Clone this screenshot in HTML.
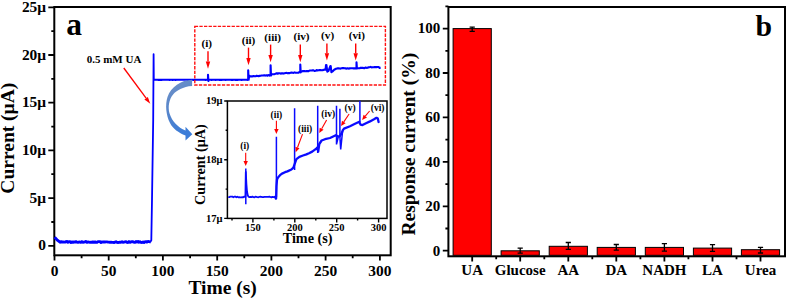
<!DOCTYPE html>
<html><head><meta charset="utf-8"><style>
html,body{margin:0;padding:0;background:#fff;overflow:hidden;}
svg{display:block;}
text{font-family:"Liberation Serif", serif;font-weight:bold;fill:#000;}
.t14{font-size:14.5px;}
.ta{font-size:15.4px;}
.t15{font-size:15px;}
.t19{font-size:19.5px;}
.t14b{font-size:14.2px;}
.t10{font-size:10.5px;}
.t11l{font-size:11.2px;}
.t9{font-size:9.5px;}
.t11{font-size:11px;}
.tbig{font-size:33px;}
</style></head><body>
<svg width="787" height="299" viewBox="0 0 787 299">
<rect x="54.3" y="7.0" width="336.4" height="248.3" fill="none" stroke="#000" stroke-width="2"/>
<rect x="448.4" y="7.0" width="336.6" height="249.3" fill="none" stroke="#000" stroke-width="2"/>
<path d="M48.3,245.8H54.3M51.3,222.0H54.3M48.3,198.1H54.3M51.3,174.2H54.3M48.3,150.4H54.3M51.3,126.6H54.3M48.3,102.7H54.3M51.3,78.9H54.3M48.3,55.0H54.3M51.3,31.2H54.3M48.3,7.3H54.3M54.5,255.3V260.5M81.6,255.3V258.3M108.7,255.3V260.5M135.8,255.3V258.3M162.9,255.3V260.5M190.1,255.3V258.3M217.2,255.3V260.5M244.3,255.3V258.3M271.4,255.3V260.5M298.5,255.3V258.3M325.6,255.3V260.5M352.7,255.3V258.3M379.9,255.3V260.5" stroke="#000" stroke-width="1.8" fill="none"/>
<text x="46.0" y="250.4" text-anchor="end" class="ta">0</text>
<text x="46.0" y="202.7" text-anchor="end" class="ta">5μ</text>
<text x="46.0" y="155.0" text-anchor="end" class="ta">10μ</text>
<text x="46.0" y="107.3" text-anchor="end" class="ta">15μ</text>
<text x="46.0" y="59.6" text-anchor="end" class="ta">20μ</text>
<text x="46.0" y="11.9" text-anchor="end" class="ta">25μ</text>
<text x="54.5" y="275.5" text-anchor="middle" class="ta">0</text>
<text x="108.7" y="275.5" text-anchor="middle" class="ta">50</text>
<text x="162.9" y="275.5" text-anchor="middle" class="ta">100</text>
<text x="217.2" y="275.5" text-anchor="middle" class="ta">150</text>
<text x="271.4" y="275.5" text-anchor="middle" class="ta">200</text>
<text x="325.6" y="275.5" text-anchor="middle" class="ta">250</text>
<text x="379.9" y="275.5" text-anchor="middle" class="ta">300</text>
<text x="222.6" y="294" text-anchor="middle" class="t19">Time (s)</text>
<text transform="translate(14.3,138.2) rotate(-90)" text-anchor="middle" class="t19">Current (μA)</text>
<text x="66.3" y="34.8" class="tbig" style="font-size:31.5px">a</text>
<path d="M442.8,250.7H448.4M445.4,228.5H448.4M442.8,206.3H448.4M445.4,184.1H448.4M442.8,161.9H448.4M445.4,139.6H448.4M442.8,117.4H448.4M445.4,95.2H448.4M442.8,73.0H448.4M445.4,50.8H448.4M442.8,28.6H448.4M445.4,6.4H448.4M472.2,256.3V261.5M496.2,256.3V259.3M520.2,256.3V261.5M544.3,256.3V259.3M568.3,256.3V261.5M592.3,256.3V259.3M616.3,256.3V261.5M640.4,256.3V259.3M664.4,256.3V261.5M688.4,256.3V259.3M712.5,256.3V261.5M736.5,256.3V259.3M760.5,256.3V261.5" stroke="#000" stroke-width="1.8" fill="none"/>
<text x="440.3" y="255.5" text-anchor="end" class="t15">0</text>
<text x="440.3" y="211.1" text-anchor="end" class="t15">20</text>
<text x="440.3" y="166.7" text-anchor="end" class="t15">40</text>
<text x="440.3" y="122.2" text-anchor="end" class="t15">60</text>
<text x="440.3" y="77.8" text-anchor="end" class="t15">80</text>
<text x="440.3" y="33.4" text-anchor="end" class="t15">100</text>
<text x="472.2" y="275.1" text-anchor="middle" class="t15">UA</text>
<text x="520.2" y="275.1" text-anchor="middle" class="t15">Glucose</text>
<text x="568.3" y="275.1" text-anchor="middle" class="t15">AA</text>
<text x="616.3" y="275.1" text-anchor="middle" class="t15">DA</text>
<text x="664.4" y="275.1" text-anchor="middle" class="t15">NADH</text>
<text x="712.5" y="275.1" text-anchor="middle" class="t15">LA</text>
<text x="760.5" y="275.1" text-anchor="middle" class="t15">Urea</text>
<text transform="translate(415.0,144.2) rotate(-90)" text-anchor="middle" class="t19">Response current (%)</text>
<text x="755.6" y="36.2" class="tbig" style="font-size:29.8px">b</text>
<rect x="453.1" y="28.6" width="38.2" height="226.7" fill="#ff0000" stroke="#000" stroke-width="1"/>
<rect x="501.1" y="250.8" width="38.2" height="4.5" fill="#ff0000" stroke="#000" stroke-width="1"/>
<rect x="549.2" y="246.3" width="38.2" height="9.0" fill="#ff0000" stroke="#000" stroke-width="1"/>
<rect x="597.2" y="247.4" width="38.2" height="7.9" fill="#ff0000" stroke="#000" stroke-width="1"/>
<rect x="645.3" y="247.4" width="38.2" height="7.9" fill="#ff0000" stroke="#000" stroke-width="1"/>
<rect x="693.4" y="248.1" width="38.2" height="7.2" fill="#ff0000" stroke="#000" stroke-width="1"/>
<rect x="741.4" y="249.7" width="38.2" height="5.6" fill="#ff0000" stroke="#000" stroke-width="1"/>
<path d="M472.2,27.2V31.3M469.6,27.2h5.2M469.6,31.3h5.2M520.2,248.2V253.2M517.6,248.2h5.2M517.6,253.2h5.2M568.3,242.5V249.4M565.7,242.5h5.2M565.7,249.4h5.2M616.3,244.5V250.2M613.7,244.5h5.2M613.7,250.2h5.2M664.4,243.6V251.2M661.8,243.6h5.2M661.8,251.2h5.2M712.5,244.7V251.3M709.9,244.7h5.2M709.9,251.3h5.2M760.5,247.4V253.0M757.9,247.4h5.2M757.9,253.0h5.2" stroke="#000" stroke-width="1.3" fill="none"/>
<path d="M54.6,237.3 L57.0,239.8 L60.0,242.2 L61.0,241.7 L62.0,242.0 L63.0,241.9 L64.0,242.1 L65.0,242.1 L66.0,241.6 L67.0,241.5 L68.0,242.3 L69.0,241.8 L70.0,241.7 L71.0,242.5 L72.0,242.0 L73.0,242.3 L74.0,242.0 L75.0,242.1 L76.0,241.7 L77.0,242.1 L78.0,242.4 L79.0,242.0 L80.0,242.2 L81.0,242.2 L82.0,241.6 L83.0,242.3 L84.0,242.1 L85.0,241.8 L86.0,241.5 L87.0,242.4 L88.0,242.0 L89.0,242.2 L90.0,242.4 L91.0,242.2 L92.0,242.4 L93.0,241.9 L94.0,242.3 L95.0,241.9 L96.0,242.4 L97.0,242.4 L98.0,241.6 L99.0,241.6 L100.0,241.7 L101.0,242.5 L102.0,241.9 L103.0,242.1 L104.0,241.8 L105.0,242.0 L106.0,241.9 L107.0,241.9 L108.0,242.1 L109.0,242.1 L110.0,242.4 L111.0,242.2 L112.0,242.4 L113.0,242.4 L114.0,242.5 L115.0,242.2 L116.0,241.7 L117.0,242.4 L118.0,242.5 L119.0,242.4 L120.0,242.1 L121.0,242.2 L122.0,241.7 L123.0,242.3 L124.0,242.1 L125.0,241.8 L126.0,241.6 L127.0,242.4 L128.0,242.5 L129.0,241.6 L130.0,242.3 L131.0,241.9 L132.0,241.7 L133.0,241.8 L134.0,242.3 L135.0,242.4 L136.0,241.5 L137.0,242.1 L138.0,241.5 L139.0,242.2 L140.0,241.8 L141.0,242.4 L142.0,242.5 L143.0,242.0 L144.0,242.5 L145.0,241.8 L146.0,241.6 L147.0,242.1 L148.0,241.5 L149.0,241.7 L150.0,241.9 L150.8,241.9" stroke="#0000ff" stroke-width="2.9" fill="none" stroke-linejoin="round"/>
<path d="M150.4,241.9 L151.3,240.4 L152.0,200 L153.2,120 L153.6,54.2 L153.8,79.8" stroke="#0000ff" stroke-width="1.8" fill="none" stroke-linejoin="round"/>
<path d="M153.8,79.8 L155.6,79.8 L156.6,79.7 L157.6,79.7 L158.6,79.9 L159.6,79.7 L160.6,79.9 L161.6,79.9 L162.6,79.8 L163.6,79.8 L164.6,79.8 L165.6,79.8 L166.6,79.8 L167.6,79.8 L168.6,79.8 L169.6,79.9 L170.6,79.8 L171.6,79.8 L172.6,79.9 L173.6,79.7 L174.6,79.7 L175.6,79.9 L176.6,79.8 L177.6,79.8 L178.6,79.7 L179.6,79.8 L180.6,79.8 L181.6,79.7 L182.6,79.8 L183.6,79.8 L184.6,79.7 L185.6,79.8 L186.6,79.8 L187.6,79.9 L188.6,79.8 L189.6,79.9 L190.6,79.9 L191.6,79.7 L192.6,79.7 L193.6,79.9 L194.6,79.9 L195.6,79.7 L196.6,79.8 L197.6,79.8 L198.6,79.7 L199.6,79.8 L200.6,79.7 L201.6,79.8 L202.6,79.8 L203.6,79.7 L204.6,79.8 L205.6,79.9 L206.6,79.7 L207.6,79.8 L208.0,79.8 L208.0,74.8 L208.4,81.0 L209.0,79.8 L208.6,79.9 L209.6,79.7 L210.6,79.7 L211.6,79.9 L212.6,79.7 L213.6,79.7 L214.6,79.8 L215.6,79.9 L216.6,79.7 L217.6,79.7 L218.6,79.8 L219.6,79.9 L220.6,79.8 L221.6,79.9 L222.6,79.7 L223.6,79.8 L224.6,79.8 L225.6,79.9 L226.6,79.8 L227.6,79.7 L228.6,79.7 L229.6,79.8 L230.6,79.7 L231.6,79.9 L232.6,79.9 L233.6,79.7 L234.6,79.7 L235.6,79.9 L236.6,79.8 L237.6,79.9 L238.6,79.8 L239.6,79.7 L240.6,79.7 L241.6,79.9 L242.6,79.7 L243.6,79.8 L244.6,79.8 L245.6,79.8 L246.6,79.8 L247.6,79.9 L248.2,79.1 L248.2,70.3 L248.6,79.8 L249.2,76.2 L248.6,77.4 L249.6,75.8 L250.6,76.5 L251.6,76.4 L252.6,76.4 L253.6,76.0 L254.6,76.3 L255.6,76.3 L256.6,75.7 L257.6,76.0 L258.6,76.1 L259.6,75.9 L260.6,75.7 L261.6,75.5 L262.6,75.5 L263.6,75.4 L264.6,75.2 L265.6,75.6 L266.6,75.3 L267.6,75.7 L268.6,75.0 L269.6,75.6 L270.6,74.5 L270.6,65.2 L271.0,75.5 L271.6,74.0 L271.6,74.1 L272.6,74.2 L273.6,74.2 L274.6,74.1 L275.6,73.8 L276.6,73.3 L277.6,73.8 L278.6,73.3 L279.6,73.3 L280.6,73.6 L281.6,73.4 L282.6,73.3 L283.6,73.6 L284.6,73.3 L285.6,73.0 L286.6,72.9 L287.6,73.3 L288.6,73.0 L289.6,73.1 L290.6,72.7 L291.6,72.6 L292.6,72.8 L293.6,72.9 L294.6,72.4 L295.6,72.8 L296.6,72.8 L297.6,72.7 L298.6,72.6 L299.6,71.9 L300.3,72.1 L300.3,64.5 L300.7,72.5 L301.3,71.5 L300.6,71.9 L301.6,71.7 L302.6,71.0 L303.6,71.1 L304.6,71.1 L305.6,71.2 L306.6,71.1 L307.6,71.0 L308.6,71.2 L309.6,70.5 L310.6,70.5 L311.6,70.5 L312.6,70.4 L313.6,70.3 L314.6,71.0 L315.6,70.8 L316.6,70.1 L317.6,70.4 L318.6,70.2 L319.6,70.1 L320.6,70.0 L321.6,70.2 L322.6,70.1 L323.6,69.9 L324.6,69.6 L325.6,69.7 L326.0,65.0 L326.4,65.0 L327.3,71.6 L328.5,70.8 L330.4,66.0 L330.7,66.0 L331.4,72.2 L332.5,71.4 L334.2,69.7 L336.0,68.8 L337.1,68.5 L337.6,68.4 L338.6,68.2 L339.6,68.5 L340.6,68.6 L341.6,68.3 L342.6,68.1 L343.6,68.1 L344.6,68.3 L345.6,68.4 L346.6,68.6 L347.6,68.2 L348.6,68.6 L349.6,68.4 L350.6,68.2 L351.6,68.2 L352.6,68.3 L353.6,68.4 L354.6,68.2 L355.6,68.4 L356.5,68.2 L356.5,62.4 L356.9,68.5 L357.5,68.3 L356.6,68.2 L357.6,68.0 L358.6,68.2 L359.6,68.3 L360.6,67.7 L361.6,67.9 L362.6,67.8 L363.6,68.1 L364.6,68.1 L365.6,67.5 L366.6,67.9 L367.6,67.7 L368.6,67.2 L369.6,67.3 L370.6,66.9 L371.6,67.4 L372.6,67.2 L373.6,67.2 L374.6,67.1 L375.6,67.0 L376.6,67.1 L377.6,67.0 L378.6,67.0 L379.6,67.9 L380.6,67.9" stroke="#0000ff" stroke-width="2.1" fill="none" stroke-linejoin="round"/>
<rect x="194.8" y="26.4" width="190.6" height="58.6" fill="none" stroke="#ff1010" stroke-width="1.4" stroke-dasharray="3.3 1.3"/>
<line x1="208.0" y1="51.3" x2="208.0" y2="61.6" stroke="#ff0000" stroke-width="1.4"/><path d="M208.0,68.8L205.8,61.6L210.2,61.6Z" fill="#ff0000"/>
<text x="206.8" y="47.2" text-anchor="middle" class="t11l">(i)</text>
<line x1="248.5" y1="47.6" x2="248.5" y2="58.1" stroke="#ff0000" stroke-width="1.4"/><path d="M248.5,65.3L246.3,58.1L250.7,58.1Z" fill="#ff0000"/>
<text x="248.5" y="44.0" text-anchor="middle" class="t11l">(ii)</text>
<line x1="270.6" y1="44.6" x2="270.6" y2="55.0" stroke="#ff0000" stroke-width="1.4"/><path d="M270.6,62.2L268.4,55.0L272.8,55.0Z" fill="#ff0000"/>
<text x="272.7" y="40.8" text-anchor="middle" class="t11l">(iii)</text>
<line x1="300.3" y1="44.6" x2="300.3" y2="55.0" stroke="#ff0000" stroke-width="1.4"/><path d="M300.3,62.2L298.1,55.0L302.5,55.0Z" fill="#ff0000"/>
<text x="301.5" y="40.4" text-anchor="middle" class="t11l">(iv)</text>
<line x1="326.9" y1="43.4" x2="326.9" y2="53.2" stroke="#ff0000" stroke-width="1.4"/><path d="M326.9,60.4L324.7,53.2L329.1,53.2Z" fill="#ff0000"/>
<text x="327.6" y="39.0" text-anchor="middle" class="t11l">(v)</text>
<line x1="355.7" y1="43.4" x2="355.7" y2="53.2" stroke="#ff0000" stroke-width="1.4"/><path d="M355.7,60.4L353.5,53.2L357.9,53.2Z" fill="#ff0000"/>
<text x="356.8" y="39.0" text-anchor="middle" class="t11l">(vi)</text>
<text x="86.7" y="62.6" class="t11">0.5 mM UA</text>
<line x1="123.8" y1="68.0" x2="146.1" y2="98.2" stroke="#ff0000" stroke-width="1.3"/><path d="M150.3,103.8L144.4,99.4L147.8,96.9Z" fill="#ff0000"/>
<defs><linearGradient id="bg" x1="0" y1="0" x2="0.3" y2="1">
<stop offset="0" stop-color="#7393c6"/><stop offset="0.5" stop-color="#5685cb"/><stop offset="1" stop-color="#3b7cd8"/></linearGradient></defs>
<path d="M192.1,79.8 C181,80 171,87 167.5,97 C165,105 166,115 170,123 C173,129 178.5,132.5 185.5,135.6 L185.5,140.6 L192.3,134.2 L185.5,126.7 L185.5,130.4 C178,127.5 172,121.5 169.4,113 C167.9,107 168.8,99.5 173.3,94.2 C176.5,90.5 183,86.6 192.1,86 Z" fill="url(#bg)"/>
<rect x="227.4" y="101.0" width="159.6" height="117.4" fill="#fff" stroke="#000" stroke-width="1.5"/>
<path d="M224.2,218.4H227.4M225.6,189.1H227.4M224.2,159.7H227.4M225.6,130.3H227.4M224.2,101.0H227.4M232.0,218.4V220.6M252.9,218.4V222.4M273.9,218.4V220.6M294.8,218.4V222.4M315.8,218.4V220.6M336.7,218.4V222.4M357.6,218.4V220.6M378.6,218.4V222.4" stroke="#000" stroke-width="1.4" fill="none"/>
<text x="222.5" y="221.8" text-anchor="end" class="t10">17μ</text>
<text x="222.5" y="163.1" text-anchor="end" class="t10">18μ</text>
<text x="222.5" y="104.4" text-anchor="end" class="t10">19μ</text>
<text x="252.9" y="230.6" text-anchor="middle" class="t10">150</text>
<text x="294.8" y="230.6" text-anchor="middle" class="t10">200</text>
<text x="336.7" y="230.6" text-anchor="middle" class="t10">250</text>
<text x="378.6" y="230.6" text-anchor="middle" class="t10">300</text>
<text x="307.6" y="243.2" text-anchor="middle" class="t14b">Time (s)</text>
<text transform="translate(204.6,164.6) rotate(-90)" text-anchor="middle" class="t14b">Current (μA)</text>
<path d="M228.3,196.7 L229.3,197.2 L230.3,196.6 L231.3,196.6 L232.3,196.6 L233.3,197.3 L234.3,196.7 L235.3,196.6 L236.3,197.3 L237.3,196.7 L238.3,197.3 L239.3,197.2 L240.3,197.3 L241.3,197.4 L242.3,197.1 L243.3,197.3 L244.3,196.6 L245.4,197.0 L245.8,172.0 L246.4,184.0 L247.0,191.5 L247.8,195.5 L248.6,196.8 L249.4,197.2 L250.4,197.0 L251.4,197.2 L252.4,196.6 L253.4,197.2 L254.4,197.4 L255.4,196.6 L256.4,196.8 L257.4,197.1 L258.4,197.3 L259.4,196.8 L260.4,196.7 L261.4,196.8 L262.4,197.1 L263.4,197.2 L264.4,196.9 L265.4,196.9 L266.4,196.9 L267.4,196.9 L268.4,196.9 L269.4,196.6 L270.4,197.0 L271.4,197.4 L272.4,196.9 L273.4,197.2 L274.4,196.7 L275.0,197.2 L275.6,198.6 L276.1,198.5" stroke="#0a0aff" stroke-width="1.8" fill="none" stroke-linejoin="round"/>
<path d="M276.1,198.5 L276.5,186.0 L277.0,179.6 L278.0,177.4 L280.0,175.2 L282.0,173.6 L285.0,172.2 L287.4,171.4 L291.4,169.5 L293.4,167.6 L294.8,163.5 L296.4,159.2 L299.4,156.8 L303.0,155.5 L306.4,154.4 L309.0,153.2 L312.2,151.6 L316.3,148.6 L317.3,147.5 L318.2,151.5 L319.3,144.0 L321.6,140.5 L325.0,139.2 L330.0,138.0 L335.8,135.2 L336.3,135.4 L338.2,136.5 L339.6,136.3 L341.8,133.0 L342.8,130.2 L344.0,128.6 L350.0,126.2 L355.0,123.8 L359.3,121.8 L360.5,124.6 L362.5,125.0 L366.0,123.2 L370.0,121.4 L374.0,119.3 L376.5,117.8 L377.8,118.6 L378.6,122.0" stroke="#0a0aff" stroke-width="2.3" fill="none" stroke-linejoin="round" stroke-linecap="round"/>
<path d="M245.8,204.2V168.4M276.4,197.0V136.8M294.6,170.0V108.2M317.7,153.0V105.8M336.5,144.4V105.7M339.9,137.0V108.8M359.9,122.0V100.8M336.5,144.4L338.2,137.2M339.9,136.8L340.7,149.4L342.6,131" stroke="#0a0aff" stroke-width="1.5" fill="none"/>
<line x1="245.7" y1="152.8" x2="245.7" y2="161.0" stroke="#ff0000" stroke-width="1.1"/><path d="M245.7,166.0L243.5,161.0L247.9,161.0Z" fill="#ff0000"/>
<text x="244.8" y="149.0" text-anchor="middle" class="t9">(i)</text>
<line x1="276.4" y1="120.7" x2="276.4" y2="129.0" stroke="#ff0000" stroke-width="1.1"/><path d="M276.4,134.0L274.2,129.0L278.6,129.0Z" fill="#ff0000"/>
<text x="276.4" y="118.3" text-anchor="middle" class="t9">(ii)</text>
<line x1="302.5" y1="134.1" x2="297.5" y2="147.5" stroke="#ff0000" stroke-width="1.1"/><path d="M295.7,152.2L295.4,146.7L299.5,148.3Z" fill="#ff0000"/>
<text x="305.1" y="132.0" text-anchor="middle" class="t9">(iii)</text>
<line x1="326.6" y1="120.0" x2="321.7" y2="128.7" stroke="#ff0000" stroke-width="1.1"/><path d="M319.2,133.1L319.7,127.7L323.6,129.8Z" fill="#ff0000"/>
<text x="328.2" y="117.0" text-anchor="middle" class="t9">(iv)</text>
<line x1="349.1" y1="114.0" x2="343.8" y2="121.9" stroke="#ff0000" stroke-width="1.1"/><path d="M341.0,126.1L342.0,120.7L345.6,123.2Z" fill="#ff0000"/>
<text x="350.1" y="111.0" text-anchor="middle" class="t9">(v)</text>
<line x1="369.6" y1="111.0" x2="365.3" y2="116.2" stroke="#ff0000" stroke-width="1.1"/><path d="M362.1,120.0L363.6,114.8L367.0,117.6Z" fill="#ff0000"/>
<text x="377.6" y="111.0" text-anchor="middle" class="t9">(vi)</text>
</svg>
</body></html>
